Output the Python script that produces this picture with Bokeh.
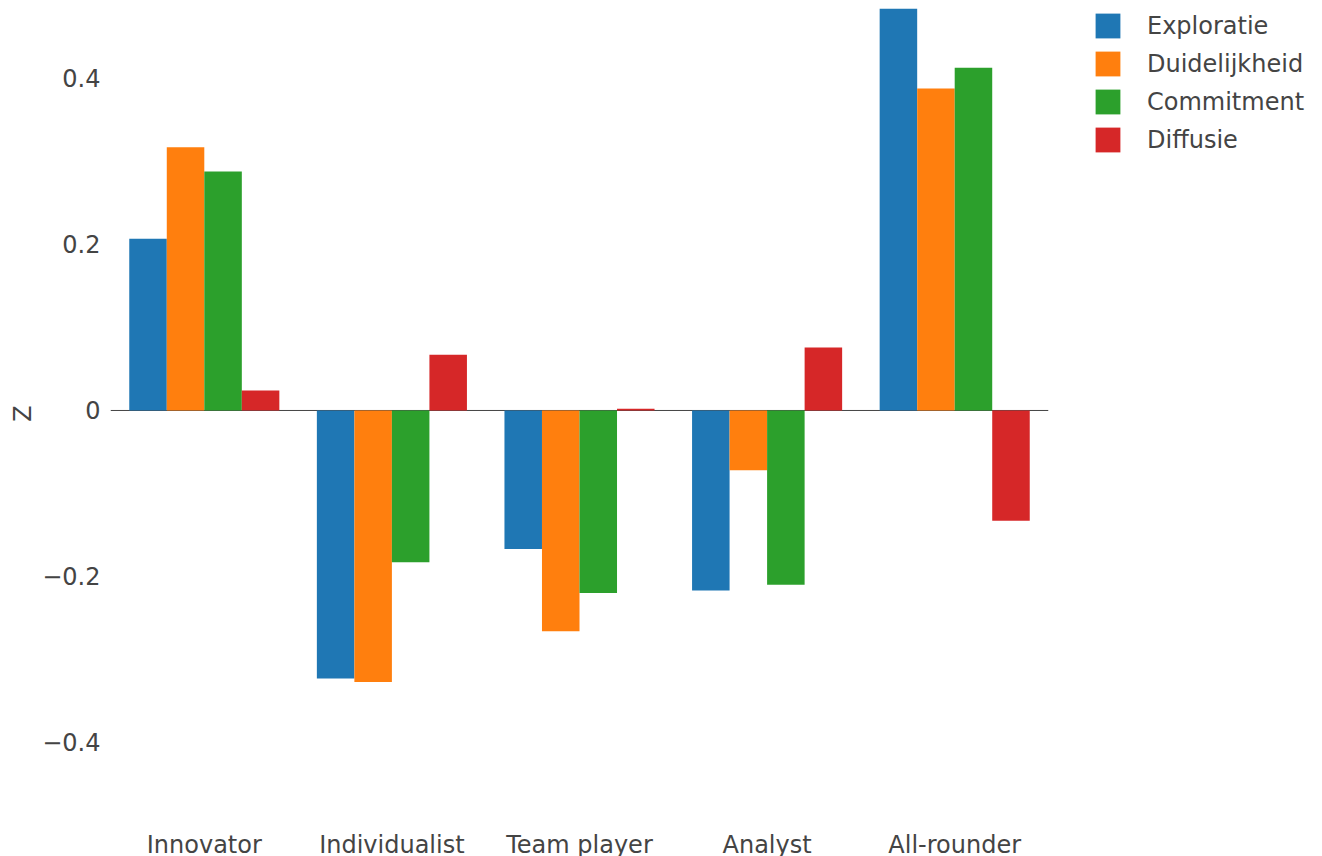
from bokeh.plotting import figure
from bokeh.models import ColumnDataSource, FactorRange, Range1d, FixedTicker, CustomJSTickFormatter, Span
from bokeh.transform import dodge
from bokeh.embed import file_html
from bokeh.resources import INLINE

categories = ["Innovator", "Individualist", "Team player", "Analyst", "All-rounder"]
series_names = ["Exploratie", "Duidelijkheid", "Commitment", "Diffusie"]
exploratie = [0.207, -0.323, -0.167, -0.217, 0.487]
duidelijkheid = [0.317, -0.327, -0.266, -0.072, 0.388]
commitment = [0.288, -0.183, -0.220, -0.210, 0.413]
diffusie = [0.024, 0.067, 0.002, 0.076, -0.133]
y_ticks = [-0.4, -0.2, 0, 0.2, 0.4]
colors = ["#1f77b4", "#ff7f0e", "#2ca02c", "#d62728"]

FONT = "DejaVu Sans"
TXT = "#444444"

src = ColumnDataSource(dict(cat=categories, Exploratie=exploratie, Duidelijkheid=duidelijkheid,
                            Commitment=commitment, Diffusie=diffusie))

p = figure(x_range=FactorRange(*categories, range_padding=0),
           y_range=Range1d(-0.4916, 0.4843),
           frame_width=938, frame_height=810,
           min_border_left=110, min_border_right=268, min_border_top=8, min_border_bottom=30,
           output_backend="svg", toolbar_location=None)

p.add_layout(Span(location=0, dimension="width", line_color="#444444", line_width=1, level="underlay"))

offsets = [-0.3, -0.1, 0.1, 0.3]
for name, off, col in zip(series_names, offsets, colors):
    p.vbar(x=dodge("cat", off, range=p.x_range), top=name, bottom=0, width=0.2, source=src,
           fill_color=col, line_color=None, legend_label=name)

p.xgrid.visible = False
p.ygrid.visible = False
p.outline_line_color = None

for ax in (p.xaxis[0], p.yaxis[0]):
    ax.axis_line_color = None
    ax.major_tick_line_color = None
    ax.minor_tick_line_color = None
    ax.major_label_text_font = FONT
    ax.major_label_text_font_size = "24px"
    ax.major_label_text_color = TXT

p.xaxis.major_label_standoff = 6
p.yaxis.major_label_standoff = 4
p.yaxis.ticker = FixedTicker(ticks=y_ticks)
p.yaxis.formatter = CustomJSTickFormatter(code="""
if (Math.abs(tick) < 1e-9) return '0';
return (tick < 0 ? '\u2212' : '') + Math.abs(tick).toFixed(1);
""")
p.yaxis.axis_label = "Z"
p.yaxis.axis_label_text_font = FONT
p.yaxis.axis_label_text_font_size = "24px"
p.yaxis.axis_label_text_font_style = "normal"
p.yaxis.axis_label_text_color = TXT
p.yaxis.axis_label_standoff = 2

lg = p.legend[0]
p.right.append(lg)
p.center.remove(lg)
lg.location = (44, 663)
lg.padding = 0
lg.margin = 0
lg.border_line_color = None
lg.background_fill_alpha = 0
lg.glyph_width = 31
lg.glyph_height = 31
lg.label_standoff = 24
lg.spacing = 7
lg.label_text_font = FONT
lg.label_text_font_size = "24px"
lg.label_text_color = TXT

open("out.html", "w").write(file_html(p, INLINE))
